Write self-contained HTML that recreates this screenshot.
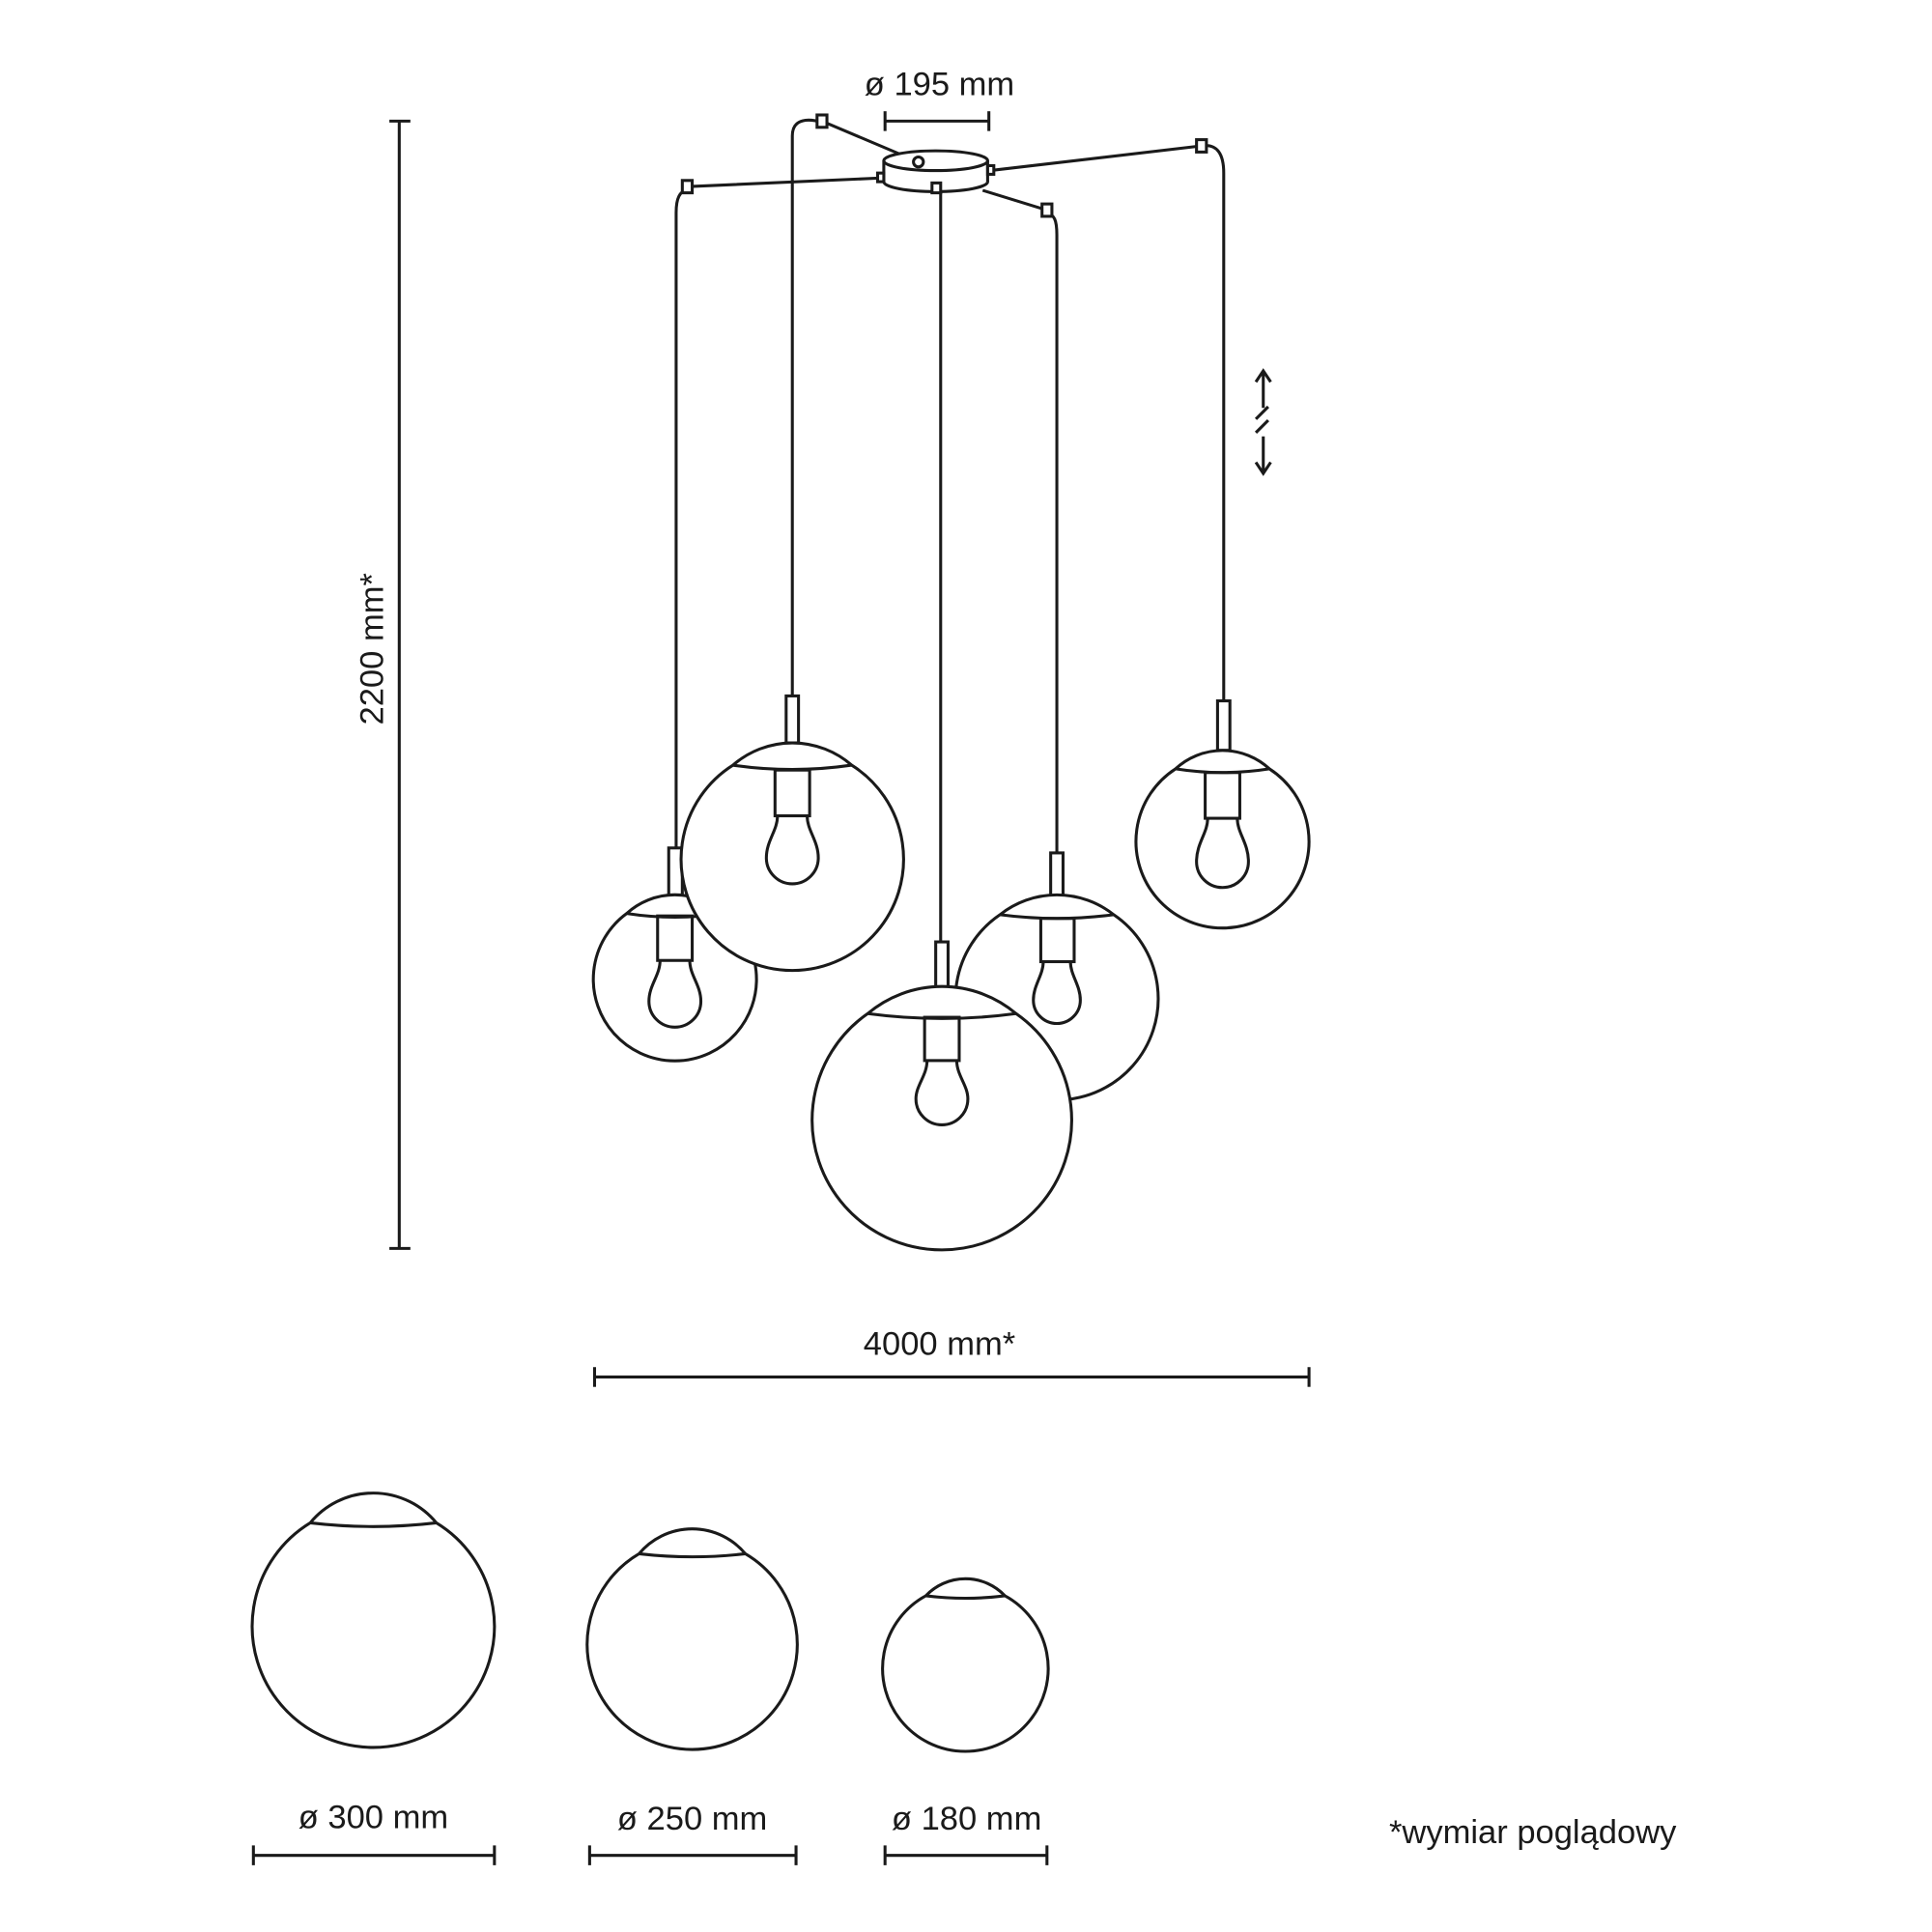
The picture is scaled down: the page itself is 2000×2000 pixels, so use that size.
<!DOCTYPE html>
<html><head><meta charset="utf-8"><style>
html,body{margin:0;padding:0;background:#fff}
svg{display:block}
text{font-family:"Liberation Sans",sans-serif;fill:#1a1a1a;font-size:27px}
</style></head><body>
<svg width="2000" height="2000" viewBox="0 0 1563 1563" xmlns="http://www.w3.org/2000/svg">
<g fill="none" stroke="#1a1a1a" stroke-width="2.4">
<line x1="323" y1="98" x2="323" y2="1010"/>
<line x1="315" y1="98" x2="332" y2="98"/>
<line x1="315" y1="1010" x2="332" y2="1010"/>
<line x1="716" y1="98" x2="800" y2="98"/>
<line x1="716" y1="90" x2="716" y2="106"/>
<line x1="800" y1="90" x2="800" y2="106"/>
<path d="M743,131 L665,98 M713,144 L556,151 M801,138 L972,118 M795,154 L847,170"/>
<path d="M556,153 C550,155 547,160 547,172 L547,686"/>
<path d="M665,99 C655,96 641,95 641,110 L641,563"/>
<path d="M847,172 C853,174 855,178 855,190 L855,690"/>
<path d="M972,118 C985,116 990,125 990,140 L990,567"/>
<line x1="761" y1="154" x2="761" y2="762"/>
<ellipse cx="757" cy="147" rx="42" ry="8" fill="#fff"/>
<rect x="715" y="130" width="84" height="17" fill="#fff" stroke="none"/>
<line x1="715" y1="130" x2="715" y2="147"/>
<line x1="799" y1="130" x2="799" y2="147"/>
<ellipse cx="757" cy="130" rx="42" ry="8" fill="#fff"/>
<circle cx="743" cy="131" r="4" fill="#fff"/>
<rect x="661" y="93" width="8" height="10" fill="#fff"/>
<rect x="552" y="146" width="8" height="10" fill="#fff"/>
<rect x="968" y="113" width="8" height="10" fill="#fff"/>
<rect x="843" y="165" width="8" height="10" fill="#fff"/>
<rect x="754" y="148" width="7" height="8" fill="#fff"/>
<rect x="710" y="140" width="5" height="7" fill="#fff"/>
<rect x="799" y="134" width="5" height="7" fill="#fff"/>
<path d="M1022,300 L1022,330 M1022,353 L1022,383 M1016,309 L1022,300 L1028,309 M1016,374 L1022,383 L1028,374 M1016,339 L1026,329 M1016,350 L1026,340"/>
<rect x="541" y="686" width="11" height="38" fill="#fff"/>
<path d="M507,739 A66 66 0 1 0 585,739 A58 58 0 0 0 507,739 Z" fill="#fff"/>
<path d="M507,739 Q546,745 585,739"/>
<rect x="532" y="741" width="28" height="36"/>
<path transform="translate(546,777)" d="M-12,0 C-12,12 -21,20 -21,33 A21 21 0 0 0 21,33 C21,20 12,12 12,0"/>
<rect x="636" y="563" width="10" height="38" fill="#fff"/>
<path d="M593,619 A90 90 0 1 0 689,619 A73 73 0 0 0 593,619 Z" fill="#fff"/>
<path d="M593,619 Q641,626 689,619"/>
<rect x="627" y="623" width="28" height="37"/>
<path transform="translate(641,660)" d="M-12,0 C-12,12 -21,20 -21,34 A21 21 0 0 0 21,34 C21,20 12,12 12,0"/>
<rect x="850" y="690" width="10" height="35" fill="#fff"/>
<path d="M809,740 A82 82 0 1 0 901,740 A74 74 0 0 0 809,740 Z" fill="#fff"/>
<path d="M809,740 Q855,746 901,740"/>
<rect x="842" y="743" width="27" height="35"/>
<path transform="translate(855,778)" d="M-11,0 C-11,11 -19,19 -19,31 A19 19 0 0 0 19,31 C19,19 11,11 11,0"/>
<rect x="757" y="762" width="10" height="37" fill="#fff"/>
<path d="M702,820 A105 105 0 1 0 822,820 A93 93 0 0 0 702,820 Z" fill="#fff"/>
<path d="M702,820 Q762,828 822,820"/>
<rect x="748" y="823" width="28" height="35"/>
<path transform="translate(762,858)" d="M-12,0 C-12,12 -21,20 -21,31 A21 21 0 0 0 21,31 C21,20 12,12 12,0"/>
<rect x="985" y="567" width="10" height="40" fill="#fff"/>
<path d="M951,622 A70 70 0 1 0 1027,622 A56 56 0 0 0 951,622 Z" fill="#fff"/>
<path d="M951,622 Q989,628 1027,622"/>
<rect x="975" y="625" width="28" height="37"/>
<path transform="translate(989,662)" d="M-12,0 C-12,12 -21,20 -21,35 A21 21 0 0 0 21,35 C21,20 12,12 12,0"/>
<line x1="481" y1="1114" x2="1059" y2="1114"/>
<line x1="481" y1="1106" x2="481" y2="1122"/>
<line x1="1059" y1="1106" x2="1059" y2="1122"/>
<path d="M251,1232 A98 98 0 1 0 353,1232 A66 66 0 0 0 251,1232 Z"/>
<path d="M251,1232 Q302,1238 353,1232"/>
<path d="M517,1257 A85 85 0 1 0 603,1257 A56 56 0 0 0 517,1257 Z"/>
<path d="M517,1257 Q560,1262 603,1257"/>
<path d="M749,1291 A67 67 0 1 0 813,1291 A44 44 0 0 0 749,1291 Z"/>
<path d="M749,1291 Q781,1295 813,1291"/>
<path d="M205,1501 L400,1501 M205,1493 L205,1509 M400,1493 L400,1509"/>
<path d="M477,1501 L644,1501 M477,1493 L477,1509 M644,1493 L644,1509"/>
<path d="M716,1501 L847,1501 M716,1493 L716,1509 M847,1493 L847,1509"/>
</g>
<text x="760" y="77" text-anchor="middle">ø 195 mm</text>
<text x="760" y="1096" text-anchor="middle">4000 mm*</text>
<text transform="translate(310,525) rotate(-90)" text-anchor="middle">2200 mm*</text>
<text x="302" y="1479" text-anchor="middle">ø 300 mm</text>
<text x="560" y="1480" text-anchor="middle">ø 250 mm</text>
<text x="782" y="1480" text-anchor="middle">ø 180 mm</text>
<text x="1240" y="1491" text-anchor="middle">*wymiar poglądowy</text>
</svg>
</body></html>
